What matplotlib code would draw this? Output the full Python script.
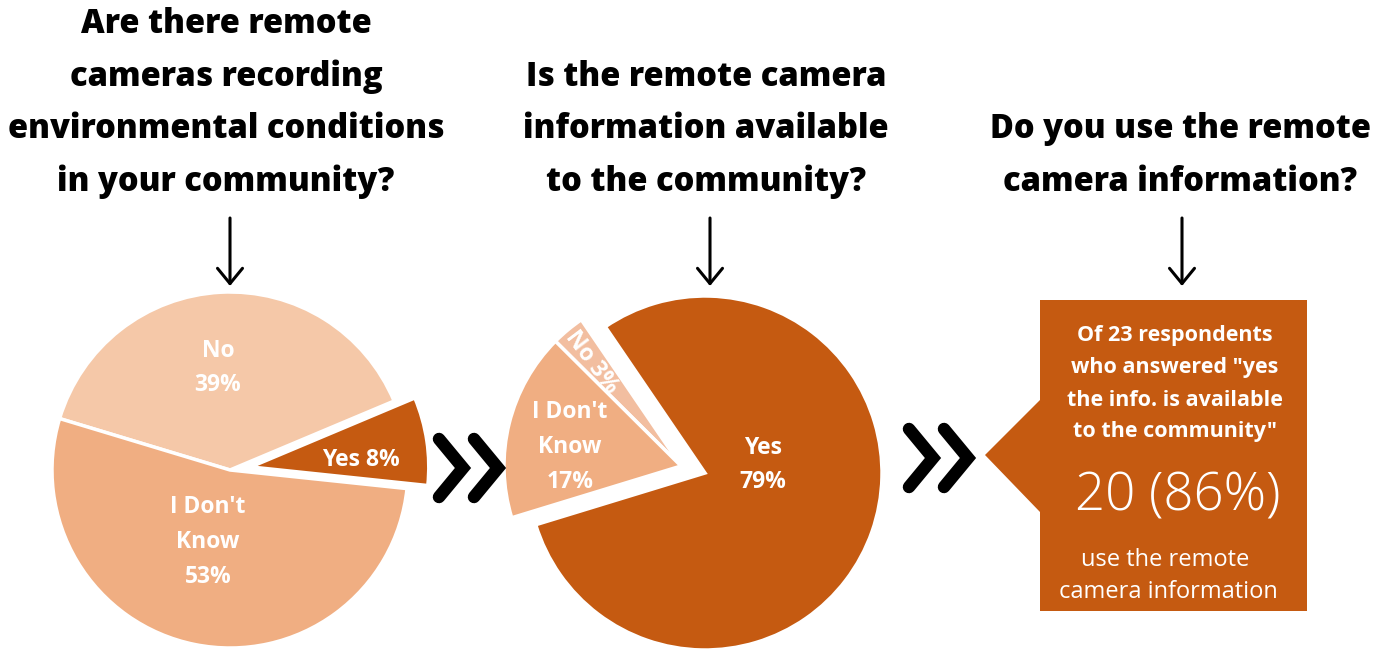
import matplotlib.pyplot as plt
from matplotlib.patches import Polygon

# Survey answers, percent of respondents
q1_labels = ["Yes", "No", "I Don't\nKnow"]
q1_values = [8, 39, 53]

q2_labels = ["Yes", "No", "I Don't\nKnow"]
q2_values = [79, 3, 17]

# Third question: of those who said the info is available
q3_respondents = 23
q3_users = 20
q3_share = 86

questions = [
    "Are there remote\ncameras recording\nenvironmental conditions\nin your community?",
    "Is the remote camera\ninformation available\nto the community?",
    "Do you use the remote\ncamera information?",
]

W, H = 1387, 649
DARK = "#C55A11"
MID = "#F0AE82"
LIGHT = "#F5C8A8"
LIGHT2 = "#F2BEA0"
FONT = "Open Sans"


def flip(y):
    # layout below is given top-down in pixels
    return H - y


fig = plt.figure(figsize=(W / 100, H / 100), dpi=100)
ax = fig.add_axes([0, 0, 1, 1])

# --- question headings ---
line_gap = 52.7
for x, text in zip([226, 706, 1180], questions):
    lines = text.split("\n")
    n = len(lines)
    for i, line in enumerate(lines):
        y = 182 - line_gap * (n - 1 - i)
        ax.text(x, flip(y), line, ha="center", va="center", fontsize=23.5,
                fontweight=800, family=FONT, color="black")

# --- down arrows under each heading ---
for x in [230, 710, 1182]:
    ax.annotate("", xy=(x, flip(286)), xytext=(x, flip(218)),
                arrowprops=dict(arrowstyle="->,head_length=0.55,head_width=0.45",
                                lw=2.2, color="black", mutation_scale=20,
                                shrinkA=0, shrinkB=0))

wedge_style = dict(edgecolor="white", linewidth=2.5)

# --- pie 1: remote cameras present ---
# explode is in data units here (pixels), since the axes span the canvas
c1 = (230, flip(470))
ax.pie(q1_values, colors=[DARK, LIGHT, MID], startangle=-6,
       explode=[21, 0, 0], center=c1, radius=178, frame=True,
       wedgeprops=wedge_style)

label_style = dict(ha="center", va="center", color="white", fontsize=16.5,
                   fontweight="bold", family=FONT, linespacing=1.6)
ax.text(361, flip(460), f"{q1_labels[0]} {q1_values[0]}%", **label_style)
ax.text(218, flip(368), f"{q1_labels[1]}\n{q1_values[1]}%", **label_style)
ax.text(208, flip(542), f"{q1_labels[2]}\n{q1_values[2]}%", **label_style)

# --- pie 2: information available ---
c2 = (705, flip(473))
wedges2, _ = ax.pie(q2_values, colors=[DARK, LIGHT2, MID], startangle=197,
                    center=c2, radius=177, frame=True, wedgeprops=wedge_style)
# pull the "No" and "I Don't Know" slices out together
for w in wedges2[1:]:
    cx, cy = w.center
    w.set_center((cx - 24, cy + 7))

ax.text(763, flip(465), f"{q2_labels[0]}\n{q2_values[0]}%", **label_style)
ax.text(570, flip(447), f"{q2_labels[2]}\n{q2_values[2]}%", **label_style)
ax.text(592, flip(362), f"{q2_labels[1]} {q2_values[1]}%", rotation=-53,
        rotation_mode="anchor", **label_style)


# --- chevrons between panels ---
def chevron(x0, yc):
    ax.plot([x0, x0 + 24, x0], [flip(yc - 29), flip(yc), flip(yc + 29)],
            color="black", lw=9, solid_capstyle="round",
            solid_joinstyle="miter")


for x0 in [439, 474]:
    chevron(x0, 468)
for x0 in [909, 944]:
    chevron(x0, 458)

# --- callout box for question 3 ---
box = [(1040, 300), (1307, 300), (1307, 611), (1040, 611),
       (1040, 512), (985, 455), (1040, 400)]
ax.add_patch(Polygon([(x, flip(y)) for x, y in box], closed=True,
                     facecolor=DARK, edgecolor="none"))

intro = [f"Of {q3_respondents} respondents", 'who answered "yes',
         "the info. is available", 'to the community"']
for i, line in enumerate(intro):
    ax.text(1175, flip(336 + 32 * i), line, ha="center", va="center",
            color="white", fontsize=15.5, fontweight="bold", family=FONT)

ax.text(1178, flip(497), f"{q3_users} ({q3_share}%)", ha="center",
        va="center", color="white", fontsize=38, fontweight="light",
        family=FONT)
ax.text(1165, flip(560), "use the remote", ha="center", va="center",
        color="white", fontsize=17, fontweight="normal", family=FONT)
ax.text(1168, flip(592), "camera information", ha="center", va="center",
        color="white", fontsize=17, fontweight="normal", family=FONT)

ax.set_xlim(0, W)
ax.set_ylim(0, H)
ax.set_aspect("auto")
ax.axis("off")

fig.savefig("out.png", dpi=100, facecolor="white")
